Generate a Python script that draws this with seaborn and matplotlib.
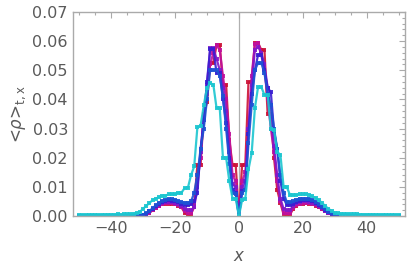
import numpy as np
import pandas as pd
import matplotlib
matplotlib.use('Agg')
import matplotlib.pyplot as plt
import seaborn as sns
from matplotlib.ticker import MultipleLocator

# x positions
x = list(range(-50, 51))

# <rho>_{t,x} values, in units of 1e-3, one list per curve
red = [0]*10 + [0, 0, 0, 0, 0, 0, 0, 0, 0, 0.1] + \
    [0.3, 0.6, 1.2, 2.0, 2.8, 3.5, 4.0, 4.2, 4.3, 4.2,
     4.0, 3.6, 3.0, 1.2, 0.4, 0.4, 4.0, 17.5, 17.5, 35.0,
     39.0, 52.5, 52.5, 58.7, 58.7, 45.0, 45.0, 26.0, 17.5, 17.5,
     0,
     17.5, 17.5, 46.0, 46.0, 59.4, 59.4, 57.0, 57.0, 35.0, 35.0,
     20.0, 9.0, 4.5, 0.5, 0.4, 0.5, 2.5, 3.5, 4.0, 4.3,
     4.4, 4.3, 4.0, 3.6, 3.0, 2.3, 1.6, 1.0, 0.5, 0.2] + [0.1] + [0]*19

magenta = [0]*10 + [0, 0, 0, 0, 0, 0, 0, 0, 0, 0.1] + \
    [0.3, 0.6, 1.2, 2.0, 2.9, 3.6, 4.1, 4.4, 4.5, 4.4,
     4.2, 3.8, 3.2, 1.6, 0.9, 0.9, 3.0, 12.0, 20.0, 34.0,
     42.0, 52.0, 56.0, 58.5, 57.0, 48.0, 40.0, 28.0, 14.0, 12.0,
     0,
     12.0, 15.0, 30.0, 48.0, 59.0, 59.5, 56.0, 50.0, 40.0, 30.0,
     22.0, 12.0, 5.0, 1.2, 0.9, 1.0, 2.8, 3.8, 4.2, 4.5,
     4.6, 4.5, 4.2, 3.8, 3.2, 2.5, 1.7, 1.1, 0.6, 0.2] + [0.1] + [0]*19

purple = [0]*10 + [0, 0, 0, 0, 0, 0, 0, 0, 0, 0.1] + \
    [0.4, 0.8, 1.5, 2.3, 3.2, 3.9, 4.5, 4.8, 4.9, 4.8,
     4.6, 4.2, 3.6, 2.5, 2.0, 2.0, 3.0, 10.0, 22.0, 34.0,
     45.0, 57.5, 57.5, 54.0, 50.0, 44.0, 36.0, 22.0, 11.0, 10.0,
     0,
     10.0, 12.0, 30.0, 45.0, 57.0, 58.0, 56.0, 52.0, 44.0, 34.0,
     24.0, 14.0, 6.0, 2.5, 2.0, 2.0, 3.5, 4.4, 4.8, 5.0,
     5.0, 4.9, 4.6, 4.1, 3.5, 2.7, 1.9, 1.2, 0.7, 0.3] + [0.1] + [0]*19

blue = [0]*10 + [0, 0, 0, 0, 0, 0, 0, 0, 0, 0.1] + \
    [0.4, 0.8, 1.6, 2.4, 3.4, 4.2, 4.8, 5.2, 5.4, 5.3,
     5.1, 4.7, 4.2, 3.8, 3.8, 4.0, 5.0, 8.0, 23.0, 33.0,
     46.0, 57.3, 57.3, 49.0, 49.0, 40.0, 32.0, 20.0, 9.0, 8.0,
     0,
     8.5, 9.0, 28.0, 42.0, 50.0, 55.3, 55.3, 50.0, 44.0, 42.5,
     29.0, 23.0, 12.0, 6.0, 3.8, 3.8, 4.0, 4.8, 5.3, 5.5,
     5.5, 5.4, 5.0, 4.5, 3.8, 3.0, 2.1, 1.3, 0.7, 0.3] + [0.1] + [0]*19

midblue = [0]*10 + [0, 0, 0, 0, 0, 0, 0, 0, 0, 0.1] + \
    [0.5, 1.0, 1.8, 2.7, 3.7, 4.5, 5.2, 5.6, 5.8, 5.8,
     5.6, 5.2, 4.8, 4.6, 4.6, 5.0, 8.0, 14.0, 23.0, 30.0,
     40.0, 50.0, 50.0, 50.0, 48.0, 41.0, 30.0, 18.0, 8.0, 7.5,
     0,
     8.0, 9.0, 25.0, 38.0, 50.0, 52.5, 52.5, 49.0, 42.0, 38.0,
     30.0, 23.0, 14.0, 8.0, 4.8, 4.8, 5.0, 5.5, 6.0, 6.0,
     6.0, 5.9, 5.5, 4.9, 4.1, 3.2, 2.3, 1.5, 0.9, 0.4] + [0.1] + [0]*19

cyan = [0.3, 0.3, 0.3, 0.4, 0.4, 0.4, 0.3, 0.4, 0.4, 0.5,
        0.5, 0.5, 0.6, 0.5, 0.6, 0.6, 0.7, 0.8, 1.0, 1.5,
        2.5, 3.5, 4.5, 5.5, 6.0, 6.5, 7.0, 7.0, 7.5, 7.5,
        7.5, 8.0, 8.0, 9.6, 9.6, 14.0, 17.0, 30.5, 31.0, 38.0,
        44.0, 45.6, 45.0, 37.0, 37.0, 20.0, 20.0, 12.0, 6.0, 6.0,
        0,
        5.5, 6.0, 16.0, 21.6, 37.0, 44.3, 44.3, 41.5, 41.5, 30.0,
        29.5, 22.0, 21.0, 10.0, 10.0, 7.2, 7.2, 7.3, 7.4, 7.5,
        7.5, 7.3, 6.8, 6.2, 5.5, 4.5, 3.5, 2.5, 1.8, 1.2,
        0.9, 0.8, 0.7, 0.7, 0.6, 0.6, 0.6, 0.5, 0.5, 0.5,
        0.5, 0.5, 0.4, 0.4, 0.4, 0.4, 0.3, 0.3, 0.3, 0.3]

series = {'red': red, 'magenta': magenta, 'purple': purple,
          'blue': blue, 'midblue': midblue, 'cyan': cyan}
colors = {'red': '#CC1236', 'magenta': '#C0109C', 'purple': '#8418C8',
          'blue': '#3A1ED2', 'midblue': '#1E52D4', 'cyan': '#1CC6D0'}

rows = []
for name, vals in series.items():
    for xi, v in zip(x, vals):
        rows.append((name, xi, v * 1e-3))
df = pd.DataFrame(rows, columns=['series', 'x', 'rho'])

sns.set_style('white')
grey = '#5a5a5a'
frame = '#aaaaaa'

fig = plt.figure(figsize=(4.07, 2.77), dpi=100)
ax = fig.add_axes([0.179, 0.22, 0.816, 0.737])
ax.axvline(0, color='#b0b0b0', lw=0.9, zorder=0)

for name in series:
    sns.lineplot(data=df[df['series'] == name], x='x', y='rho', ax=ax,
                 color=colors[name], lw=1.6, marker='s', markersize=2.6,
                 markeredgewidth=0, alpha=0.9, legend=False)

ax.set_xlim(-52, 52)
ax.set_ylim(0, 0.07)
ax.xaxis.set_minor_locator(MultipleLocator(5))
ax.yaxis.set_major_locator(MultipleLocator(0.01))
ax.yaxis.set_minor_locator(MultipleLocator(0.002))
ax.yaxis.set_major_formatter(plt.FormatStrFormatter('%.2f'))
ax.set_xticks([-40, -20, 0, 20, 40])
ax.set_xticklabels(['\u221240', '\u221220', '0', '20', '40'])

ax.tick_params(which='both', direction='in', top=True, right=True,
               color=frame, labelcolor=grey, labelsize=11.5, width=0.8)
ax.tick_params(which='major', length=4)
ax.tick_params(which='minor', length=2)
for s in ax.spines.values():
    s.set_color(frame)
    s.set_linewidth(1.0)

ax.set_xlabel('$x$', color=grey, fontsize=12, labelpad=8)
ax.set_ylabel(r'<$\rho$>$_{\mathrm{t,x}}$', color=grey, fontsize=12, labelpad=3)

fig.savefig('out.png', dpi=100)
